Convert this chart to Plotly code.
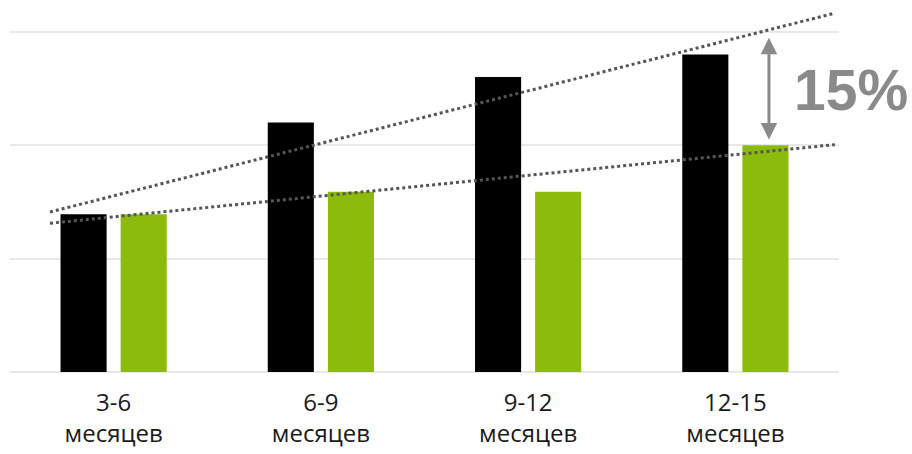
import numpy as np
import plotly.graph_objects as go

# Categories and series values
categories = ["3-6<br>месяцев", "6-9<br>месяцев", "9-12<br>месяцев", "12-15<br>месяцев"]
black_values = [13.9, 22.0, 26.0, 28.0]
green_values = [13.9, 15.9, 15.9, 20.0]
gap_label = "15%"

x_idx = np.arange(len(categories))

fig = go.Figure()
fig.add_trace(go.Bar(x=x_idx, y=black_values, marker=dict(color="#000000", line=dict(width=0)),
                     showlegend=False))
fig.add_trace(go.Bar(x=x_idx, y=green_values, marker=dict(color="#8cbb0c", line=dict(width=0)),
                     showlegend=False))

# Linear trend lines fitted to each series
tx = np.array([-0.307, 3.48])
for vals in (black_values, green_values):
    k, b = np.polyfit(x_idx, vals, 1)
    fig.add_trace(go.Scatter(x=tx, y=k * tx + b, mode="lines",
                             line=dict(color="#555555", width=3, dash="dot"),
                             showlegend=False, hoverinfo="skip", cliponaxis=False))

# Double-headed arrow between the trends, with the gap label
ax_x = 3.162
fig.add_annotation(x=ax_x, y=20.5, ax=ax_x, ay=29.6, xref="x", yref="y", axref="x", ayref="y",
                   showarrow=True, arrowside="end+start", arrowhead=2, arrowsize=1.1,
                   arrowwidth=3, arrowcolor="#8a8a8a", text="")
fig.add_annotation(xref="paper", yref="paper",
                   x=(851 - 10) / (912 - 10 - 73), y=(372 - 90) / 372,
                   text=gap_label, showarrow=False,
                   font=dict(family="Liberation Sans, Arial", size=57, color="#8a8a8a",
                             weight="bold"),
                   xanchor="center", yanchor="middle")

fig.update_layout(
    width=912, height=454,
    margin=dict(l=10, r=73, t=0, b=82),
    paper_bgcolor="white", plot_bgcolor="white",
    barmode="group", bargap=0.42, bargroupgap=0.233,
    xaxis=dict(range=[-0.5, 3.5], tickvals=list(x_idx), ticktext=categories,
               showgrid=False, zeroline=False, showline=False, ticks="",
               ticklabelstandoff=14,
               tickfont=dict(family="Open Sans", size=24, color="#1a1a1a")),
    yaxis=dict(range=[0, 32.8], dtick=10, showticklabels=False, showgrid=True,
               gridcolor="#e8e8e8", gridwidth=2, zeroline=True, zerolinecolor="#e8e8e8",
               zerolinewidth=2, showline=False, ticks=""),
)

fig.write_html("out.html")
